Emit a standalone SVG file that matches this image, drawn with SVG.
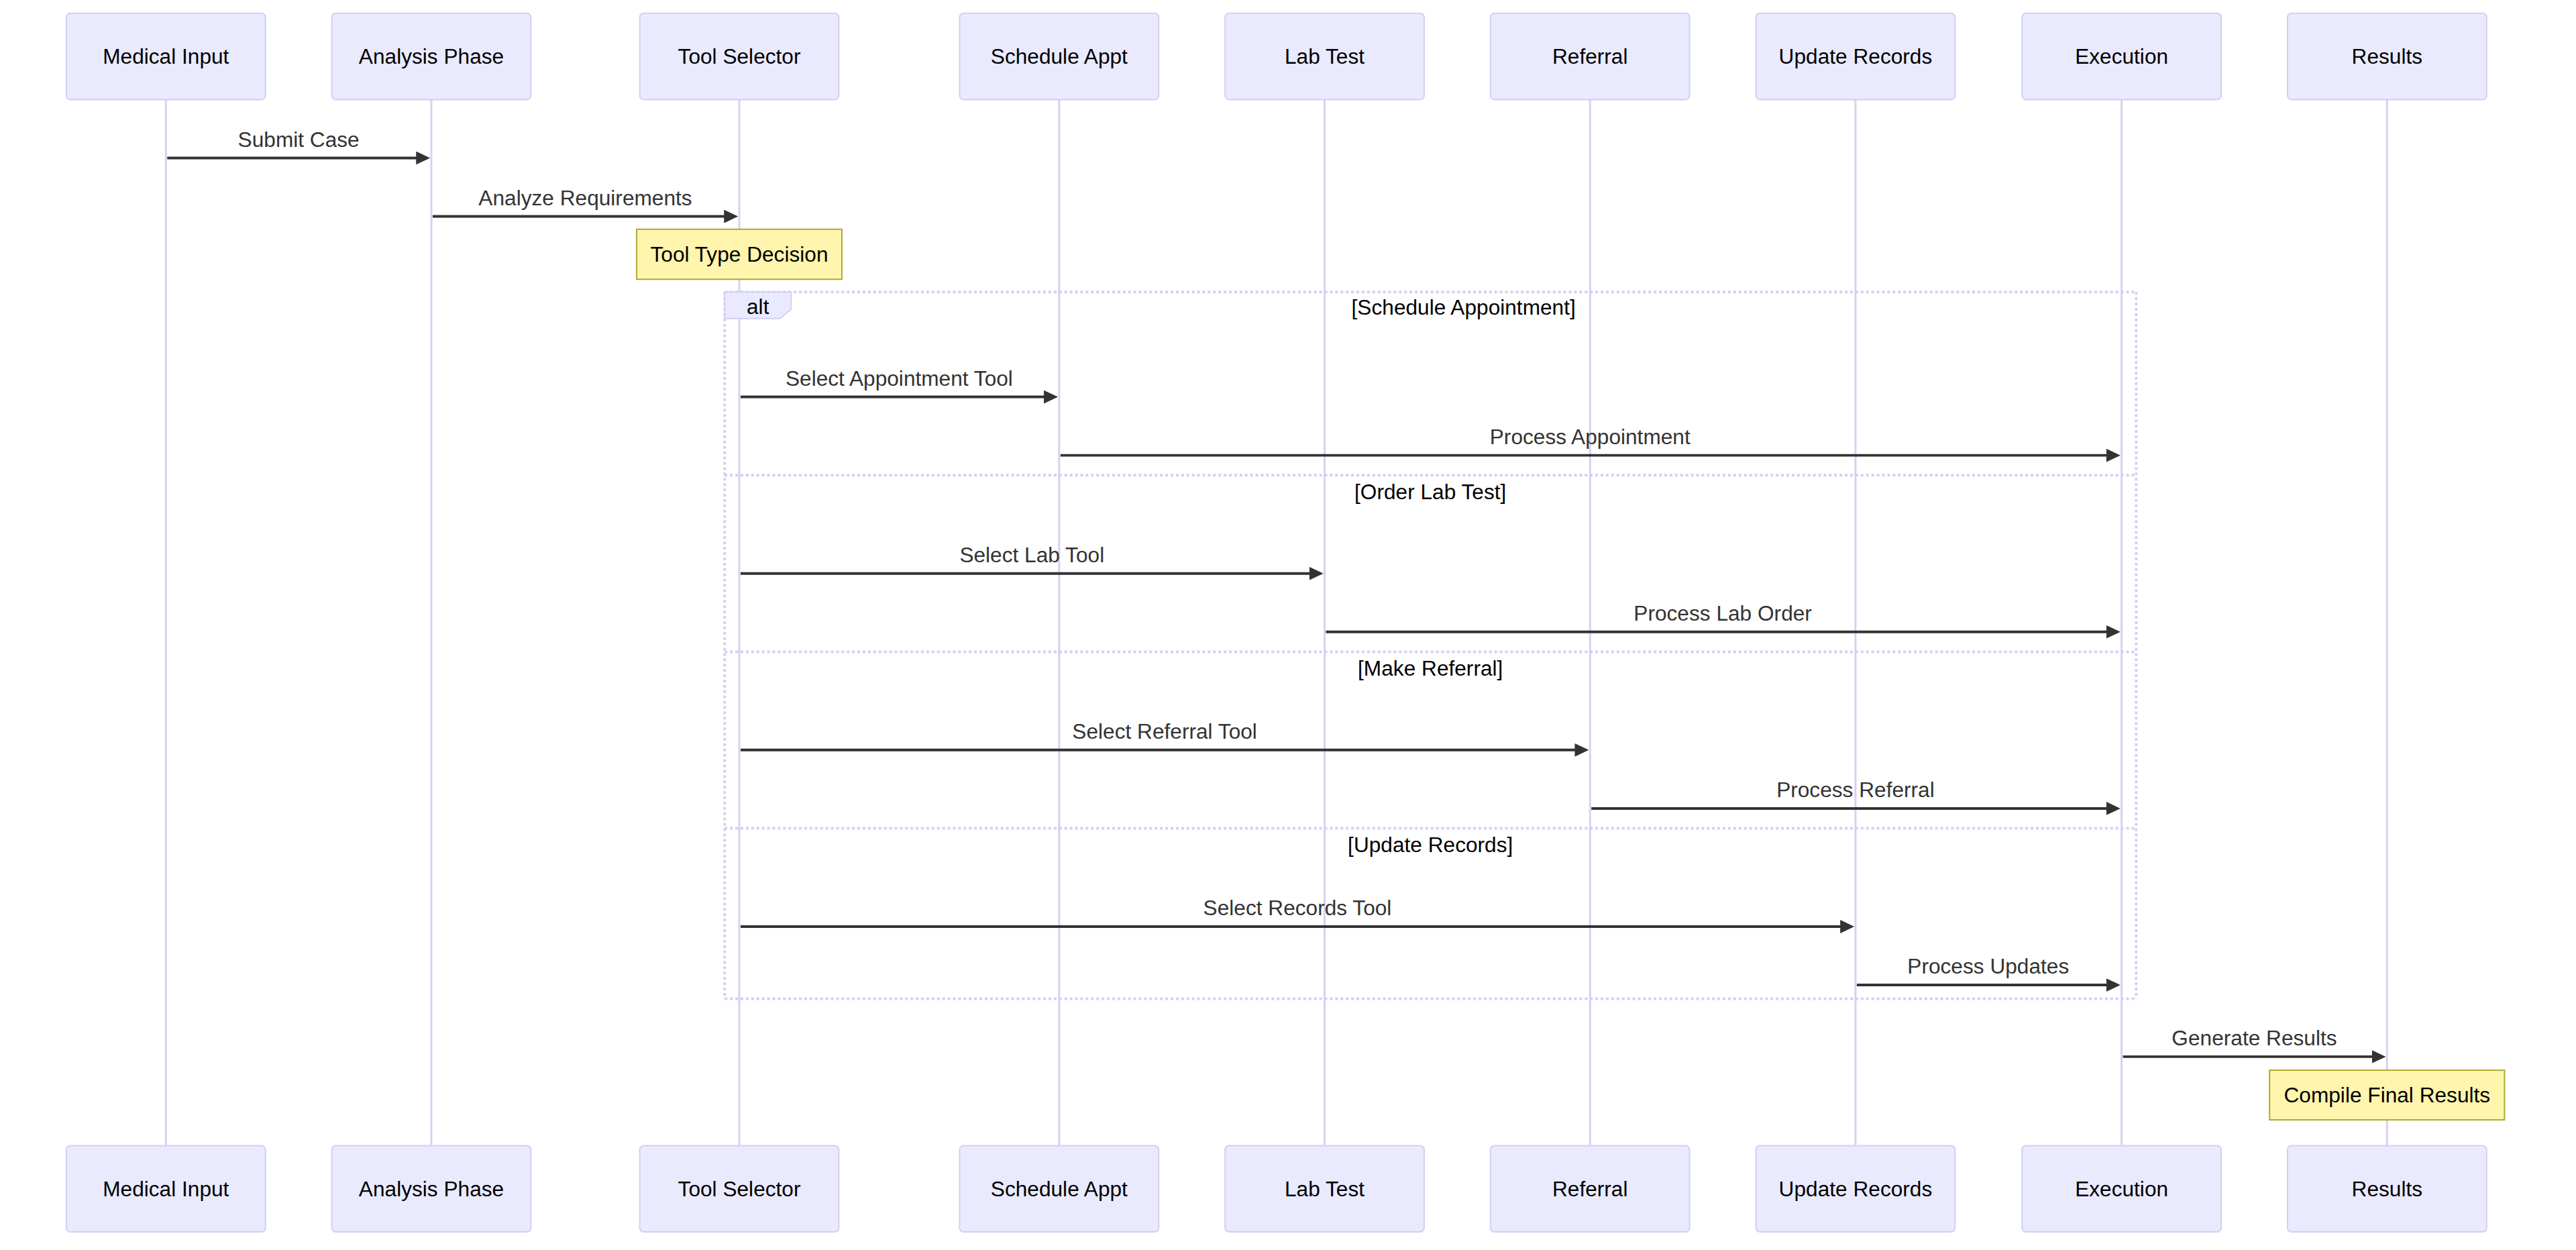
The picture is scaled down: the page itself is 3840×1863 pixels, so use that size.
<svg xmlns="http://www.w3.org/2000/svg" width="3840" height="1863" viewBox="0 0 3840 1863">
  <style>
    text { font-family: "Liberation Sans", Arial, sans-serif; font-size: 16px; }
    .actor rect { fill: #eaeaff; stroke: #d6cdf2; stroke-width: 1; }
    .actor text { fill: #000; text-anchor: middle; dominant-baseline: central; }
    .lifeline { stroke: #dacef3; stroke-width: 1.5; }
    .msg line { stroke: #333; stroke-width: 2; }
    .msg text { fill: #333; text-anchor: middle; }
    .note rect { fill: #fff5ad; stroke: #aaaa33; stroke-width: 1; }
    .note text { fill: #000; text-anchor: middle; dominant-baseline: central; }
    .loopLine { stroke: #d6cdf2; stroke-width: 2; stroke-dasharray: 2 2; fill: none; }
    .labelBox { fill: #eaeaff; stroke: #d6cdf2; stroke-width: 1; }
    .loopText { fill: #000; text-anchor: middle; }
  </style>
  <defs>
    <marker id="arrowhead" markerUnits="userSpaceOnUse" markerWidth="12" markerHeight="12" refX="8" refY="5" orient="auto">
      <path d="M0,0 L10.6,5 L0,10 z" fill="#333"/>
    </marker>
  </defs>
  <rect width="3840" height="1863" fill="#fff"/>
  <g transform="scale(1.9785) translate(50,10)">
    <!-- lifelines -->
    <g id="lifelines">
      <line class="lifeline" x1="75" y1="65" x2="75" y2="853"/>
      <line class="lifeline" x1="275" y1="65" x2="275" y2="853"/>
      <line class="lifeline" x1="507" y1="65" x2="507" y2="853"/>
      <line class="lifeline" x1="748" y1="65" x2="748" y2="853"/>
      <line class="lifeline" x1="948" y1="65" x2="948" y2="853"/>
      <line class="lifeline" x1="1148" y1="65" x2="1148" y2="853"/>
      <line class="lifeline" x1="1348" y1="65" x2="1348" y2="853"/>
      <line class="lifeline" x1="1548.5" y1="65" x2="1548.5" y2="853"/>
      <line class="lifeline" x1="1748.5" y1="65" x2="1748.5" y2="853"/>
    </g>

    <!-- participants, top row -->
    <g id="actor-medical-input-top" class="actor"><rect x="0" y="0" width="150" height="65" rx="3"/><text x="75" y="32.5">Medical Input</text></g>
    <g id="actor-analysis-phase-top" class="actor"><rect x="200" y="0" width="150" height="65" rx="3"/><text x="275" y="32.5">Analysis Phase</text></g>
    <g id="actor-tool-selector-top" class="actor"><rect x="432" y="0" width="150" height="65" rx="3"/><text x="507" y="32.5">Tool Selector</text></g>
    <g id="actor-schedule-appt-top" class="actor"><rect x="673" y="0" width="150" height="65" rx="3"/><text x="748" y="32.5">Schedule Appt</text></g>
    <g id="actor-lab-test-top" class="actor"><rect x="873" y="0" width="150" height="65" rx="3"/><text x="948" y="32.5">Lab Test</text></g>
    <g id="actor-referral-top" class="actor"><rect x="1073" y="0" width="150" height="65" rx="3"/><text x="1148" y="32.5">Referral</text></g>
    <g id="actor-update-records-top" class="actor"><rect x="1273" y="0" width="150" height="65" rx="3"/><text x="1348" y="32.5">Update Records</text></g>
    <g id="actor-execution-top" class="actor"><rect x="1473.5" y="0" width="150" height="65" rx="3"/><text x="1548.5" y="32.5">Execution</text></g>
    <g id="actor-results-top" class="actor"><rect x="1673.5" y="0" width="150" height="65" rx="3"/><text x="1748.5" y="32.5">Results</text></g>

    <!-- participants, bottom row -->
    <g id="actor-medical-input-bottom" class="actor"><rect x="0" y="853" width="150" height="65" rx="3"/><text x="75" y="885.5">Medical Input</text></g>
    <g id="actor-analysis-phase-bottom" class="actor"><rect x="200" y="853" width="150" height="65" rx="3"/><text x="275" y="885.5">Analysis Phase</text></g>
    <g id="actor-tool-selector-bottom" class="actor"><rect x="432" y="853" width="150" height="65" rx="3"/><text x="507" y="885.5">Tool Selector</text></g>
    <g id="actor-schedule-appt-bottom" class="actor"><rect x="673" y="853" width="150" height="65" rx="3"/><text x="748" y="885.5">Schedule Appt</text></g>
    <g id="actor-lab-test-bottom" class="actor"><rect x="873" y="853" width="150" height="65" rx="3"/><text x="948" y="885.5">Lab Test</text></g>
    <g id="actor-referral-bottom" class="actor"><rect x="1073" y="853" width="150" height="65" rx="3"/><text x="1148" y="885.5">Referral</text></g>
    <g id="actor-update-records-bottom" class="actor"><rect x="1273" y="853" width="150" height="65" rx="3"/><text x="1348" y="885.5">Update Records</text></g>
    <g id="actor-execution-bottom" class="actor"><rect x="1473.5" y="853" width="150" height="65" rx="3"/><text x="1548.5" y="885.5">Execution</text></g>
    <g id="actor-results-bottom" class="actor"><rect x="1673.5" y="853" width="150" height="65" rx="3"/><text x="1748.5" y="885.5">Results</text></g>

    <!-- alt frame with its four branches -->
    <g id="alt-frame">
      <line class="loopLine" x1="496" y1="210" x2="1559.5" y2="210"/>
      <line class="loopLine" x1="1559.5" y1="210" x2="1559.5" y2="742.3"/>
      <line class="loopLine" x1="496" y1="742.3" x2="1559.5" y2="742.3"/>
      <line class="loopLine" x1="496" y1="210" x2="496" y2="742.3"/>
      <line class="loopLine" x1="496" y1="348" x2="1559.5" y2="348"/>
      <line class="loopLine" x1="496" y1="481" x2="1559.5" y2="481"/>
      <line class="loopLine" x1="496" y1="614" x2="1559.5" y2="614"/>
      <polygon class="labelBox" points="496,210 546,210 546,223 537.6,230 496,230"/>
      <text class="loopText" x="521" y="226.5">alt</text>
      <text class="loopText" x="1052.7" y="227">[Schedule Appointment]</text>
      <text class="loopText" x="1027.7" y="366">[Order Lab Test]</text>
      <text class="loopText" x="1027.7" y="499">[Make Referral]</text>
      <text class="loopText" x="1027.7" y="632">[Update Records]</text>
    </g>

    <!-- messages -->
    <g id="messages">
      <g class="msg"><line x1="76" y1="109" x2="271.5" y2="109" marker-end="url(#arrowhead)"/><text x="175" y="100.5">Submit Case</text></g>
      <g class="msg"><line x1="276" y1="153" x2="503.5" y2="153" marker-end="url(#arrowhead)"/><text x="391" y="144.5">Analyze Requirements</text></g>
      <g class="msg"><line x1="508" y1="289" x2="744.5" y2="289" marker-end="url(#arrowhead)"/><text x="627.5" y="280.5">Select Appointment Tool</text></g>
      <g class="msg"><line x1="749" y1="333" x2="1545" y2="333" marker-end="url(#arrowhead)"/><text x="1148" y="324.5">Process Appointment</text></g>
      <g class="msg"><line x1="508" y1="422" x2="944.5" y2="422" marker-end="url(#arrowhead)"/><text x="727.5" y="413.5">Select Lab Tool</text></g>
      <g class="msg"><line x1="949" y1="466" x2="1545" y2="466" marker-end="url(#arrowhead)"/><text x="1248" y="457.5">Process Lab Order</text></g>
      <g class="msg"><line x1="508" y1="555" x2="1144.5" y2="555" marker-end="url(#arrowhead)"/><text x="827.5" y="546.5">Select Referral Tool</text></g>
      <g class="msg"><line x1="1149" y1="599" x2="1545" y2="599" marker-end="url(#arrowhead)"/><text x="1348" y="590.5">Process Referral</text></g>
      <g class="msg"><line x1="508" y1="688" x2="1344.5" y2="688" marker-end="url(#arrowhead)"/><text x="927.5" y="679.5">Select Records Tool</text></g>
      <g class="msg"><line x1="1349" y1="732" x2="1545" y2="732" marker-end="url(#arrowhead)"/><text x="1448" y="723.5">Process Updates</text></g>
      <g class="msg"><line x1="1549.5" y1="786" x2="1745" y2="786" marker-end="url(#arrowhead)"/><text x="1648.5" y="777.5">Generate Results</text></g>
    </g>

    <!-- notes -->
    <g id="note-tool-type-decision" class="note"><rect x="429.7" y="162.7" width="154.6" height="37.7"/><text x="507" y="181.5">Tool Type Decision</text></g>
    <g id="note-compile-final-results" class="note"><rect x="1660" y="796.2" width="177" height="37.4"/><text x="1748.5" y="815">Compile Final Results</text></g>
  </g>
</svg>
